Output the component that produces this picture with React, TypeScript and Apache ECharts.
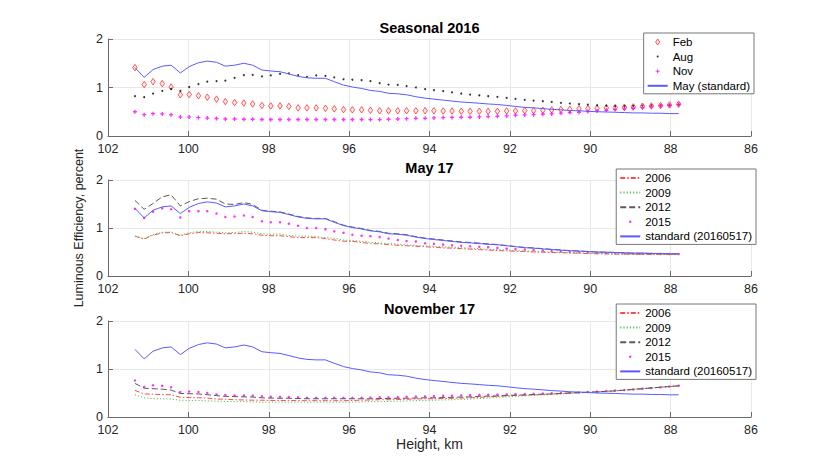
import React, { useEffect, useRef } from 'react';
import * as echarts from 'echarts';

// Heights (km) of the samples
const H = [
  101.33, 101.10, 100.88, 100.65, 100.43, 100.20, 99.98, 99.75, 99.53, 99.30,
  99.08, 98.85, 98.62, 98.40, 98.17, 97.95, 97.72, 97.50, 97.27, 97.05,
  96.82, 96.59, 96.37, 96.14, 95.92, 95.69, 95.47, 95.24, 95.02, 94.79,
  94.57, 94.34, 94.11, 93.89, 93.66, 93.44, 93.21, 92.99, 92.76, 92.54,
  92.31, 92.08, 91.86, 91.63, 91.41, 91.18, 90.96, 90.73, 90.51, 90.28,
  90.06, 89.83, 89.60, 89.38, 89.15, 88.93, 88.70, 88.48, 88.25, 88.03,
  87.80,
];

// Seasonal 2016
const FEB = [
  1.41, 1.06, 1.12, 1.08, 1.01, 0.85, 0.855, 0.83, 0.80, 0.76,
  0.71, 0.69, 0.68, 0.66, 0.63, 0.62, 0.62, 0.61, 0.58, 0.58,
  0.58, 0.57, 0.56, 0.545, 0.54, 0.54, 0.53, 0.52, 0.52, 0.52,
  0.52, 0.52, 0.52, 0.52, 0.515, 0.515, 0.51, 0.51, 0.51, 0.51,
  0.51, 0.517, 0.517, 0.524, 0.524, 0.53, 0.538, 0.545, 0.55, 0.56,
  0.566, 0.573, 0.58, 0.587, 0.593, 0.60, 0.614, 0.62, 0.628, 0.64,
  0.655,
];
const AUG = [
  0.82, 0.80, 0.875, 0.93, 0.97, 0.93, 1.01, 1.07, 1.12, 1.13,
  1.14, 1.20, 1.255, 1.26, 1.23, 1.25, 1.28, 1.29, 1.255, 1.22,
  1.25, 1.24, 1.21, 1.17, 1.16, 1.15, 1.13, 1.09, 1.06, 1.055,
  1.03, 1.00, 0.965, 0.945, 0.925, 0.90, 0.876, 0.855, 0.84, 0.82,
  0.807, 0.786, 0.766, 0.745, 0.73, 0.717, 0.703, 0.683, 0.67, 0.655,
  0.648, 0.634, 0.628, 0.614, 0.614, 0.62, 0.628, 0.634, 0.634, 0.634,
  0.648,
];
const NOV = [
  0.50, 0.44, 0.46, 0.455, 0.44, 0.39, 0.39, 0.38, 0.37, 0.36,
  0.35, 0.35, 0.345, 0.345, 0.34, 0.34, 0.34, 0.34, 0.34, 0.34,
  0.34, 0.34, 0.34, 0.34, 0.34, 0.34, 0.338, 0.338, 0.345, 0.35,
  0.358, 0.365, 0.365, 0.372, 0.38, 0.384, 0.386, 0.386, 0.393, 0.40,
  0.407, 0.414, 0.428, 0.434, 0.44, 0.448, 0.455, 0.47, 0.483, 0.49,
  0.503, 0.517, 0.53, 0.545, 0.56, 0.572, 0.586, 0.607, 0.62, 0.634,
  0.648,
];
// standard (20160517)
const STD = [
  1.41, 1.21, 1.37, 1.44, 1.46, 1.30, 1.43, 1.51, 1.545, 1.52,
  1.44, 1.46, 1.50, 1.46, 1.36, 1.34, 1.325, 1.28, 1.23, 1.20,
  1.19, 1.19, 1.12, 1.05, 1.01, 0.98, 0.94, 0.92, 0.88, 0.87,
  0.85, 0.81, 0.78, 0.76, 0.74, 0.72, 0.70, 0.69, 0.675, 0.66,
  0.65, 0.63, 0.61, 0.59, 0.58, 0.565, 0.55, 0.54, 0.525, 0.52,
  0.51, 0.50, 0.495, 0.49, 0.483, 0.476, 0.476, 0.47, 0.47, 0.462,
  0.462,
];

// May 17
const MAY06 = [
  0.83, 0.77, 0.85, 0.90, 0.905, 0.84, 0.88, 0.905, 0.90, 0.89,
  0.88, 0.885, 0.89, 0.88, 0.85, 0.84, 0.84, 0.82, 0.80, 0.80,
  0.80, 0.78, 0.75, 0.725, 0.72, 0.70, 0.675, 0.67, 0.655, 0.64,
  0.63, 0.62, 0.61, 0.60, 0.585, 0.58, 0.57, 0.56, 0.55, 0.54,
  0.53, 0.523, 0.515, 0.51, 0.50, 0.495, 0.49, 0.485, 0.48, 0.475,
  0.467, 0.463, 0.46, 0.457, 0.455, 0.452, 0.45, 0.448, 0.447, 0.446,
  0.446,
];
const MAY09 = [
  0.83, 0.78, 0.864, 0.91, 0.92, 0.85, 0.90, 0.927, 0.927, 0.913,
  0.90, 0.906, 0.927, 0.913, 0.878, 0.87, 0.878, 0.843, 0.83, 0.83,
  0.82, 0.80, 0.787, 0.75, 0.74, 0.725, 0.70, 0.69, 0.676, 0.662,
  0.648, 0.634, 0.627, 0.62, 0.606, 0.60, 0.59, 0.58, 0.57, 0.56,
  0.55, 0.54, 0.53, 0.52, 0.515, 0.505, 0.50, 0.49, 0.485, 0.48,
  0.475, 0.47, 0.465, 0.46, 0.457, 0.455, 0.452, 0.45, 0.448, 0.447,
  0.446,
];
const MAY12 = [
  1.575, 1.39, 1.51, 1.65, 1.69, 1.46, 1.55, 1.61, 1.62, 1.60,
  1.50, 1.49, 1.53, 1.49, 1.37, 1.35, 1.335, 1.29, 1.24, 1.21,
  1.20, 1.20, 1.13, 1.06, 1.02, 0.99, 0.95, 0.93, 0.89, 0.88,
  0.86, 0.82, 0.79, 0.77, 0.75, 0.73, 0.71, 0.70, 0.685, 0.67,
  0.655, 0.635, 0.615, 0.595, 0.585, 0.57, 0.555, 0.54, 0.53, 0.52,
  0.51, 0.50, 0.495, 0.49, 0.483, 0.476, 0.474, 0.47, 0.468, 0.462,
  0.46,
];
const MAY15 = [
  1.40, 1.21, 1.34, 1.41, 1.39, 1.22, 1.35, 1.35, 1.35, 1.30,
  1.23, 1.24, 1.26, 1.23, 1.14, 1.12, 1.12, 1.09, 1.045, 1.00,
  1.00, 0.975, 0.93, 0.90, 0.86, 0.84, 0.83, 0.81, 0.78, 0.75,
  0.73, 0.72, 0.68, 0.67, 0.655, 0.64, 0.63, 0.62, 0.61, 0.60,
  0.585, 0.57, 0.56, 0.55, 0.54, 0.53, 0.52, 0.51, 0.50, 0.495,
  0.49, 0.485, 0.48, 0.475, 0.47, 0.468, 0.465, 0.462, 0.46, 0.458,
  0.456,
];

// November 17
const NOV06 = [
  0.555, 0.48, 0.475, 0.465, 0.465, 0.41, 0.405, 0.40, 0.395, 0.375,
  0.37, 0.36, 0.355, 0.35, 0.35, 0.345, 0.345, 0.345, 0.34, 0.34,
  0.34, 0.34, 0.34, 0.34, 0.345, 0.35, 0.355, 0.36, 0.36, 0.365,
  0.37, 0.375, 0.38, 0.38, 0.385, 0.39, 0.395, 0.40, 0.41, 0.42,
  0.43, 0.44, 0.45, 0.455, 0.46, 0.47, 0.48, 0.49, 0.50, 0.505,
  0.515, 0.525, 0.535, 0.545, 0.56, 0.575, 0.59, 0.605, 0.62, 0.635,
  0.65,
];
const NOV09 = [
  0.465, 0.40, 0.38, 0.38, 0.375, 0.35, 0.345, 0.345, 0.335, 0.33,
  0.325, 0.32, 0.32, 0.315, 0.31, 0.31, 0.31, 0.31, 0.31, 0.31,
  0.31, 0.31, 0.31, 0.31, 0.31, 0.315, 0.32, 0.32, 0.325, 0.33,
  0.335, 0.34, 0.345, 0.35, 0.355, 0.36, 0.365, 0.375, 0.385, 0.395,
  0.41, 0.42, 0.43, 0.44, 0.45, 0.46, 0.47, 0.48, 0.49, 0.50,
  0.51, 0.52, 0.53, 0.545, 0.56, 0.575, 0.59, 0.605, 0.62, 0.63,
  0.645,
];
const NOV12 = [
  0.70, 0.60, 0.59, 0.58, 0.56, 0.49, 0.486, 0.48, 0.465, 0.445,
  0.43, 0.425, 0.42, 0.415, 0.40, 0.395, 0.39, 0.39, 0.385, 0.38,
  0.38, 0.38, 0.38, 0.38, 0.38, 0.38, 0.38, 0.385, 0.385, 0.39,
  0.39, 0.395, 0.40, 0.40, 0.405, 0.41, 0.415, 0.42, 0.43, 0.435,
  0.44, 0.45, 0.455, 0.46, 0.47, 0.475, 0.48, 0.49, 0.50, 0.51,
  0.515, 0.525, 0.535, 0.545, 0.56, 0.575, 0.59, 0.605, 0.62, 0.635,
  0.65,
];
const NOV15 = [
  0.76, 0.63, 0.66, 0.65, 0.62, 0.52, 0.53, 0.52, 0.50, 0.47,
  0.46, 0.45, 0.45, 0.445, 0.43, 0.42, 0.42, 0.415, 0.41, 0.40,
  0.40, 0.40, 0.40, 0.40, 0.40, 0.40, 0.405, 0.41, 0.41, 0.415,
  0.42, 0.425, 0.43, 0.435, 0.44, 0.445, 0.45, 0.455, 0.46, 0.463,
  0.466, 0.47, 0.475, 0.48, 0.485, 0.49, 0.495, 0.50, 0.505, 0.51,
  0.52, 0.53, 0.54, 0.55, 0.5625, 0.575, 0.59, 0.605, 0.618, 0.635,
  0.653,
];

const TITLES = ['Seasonal 2016', 'May 17', 'November 17'];
const TOP_LEGEND = ['Feb', 'Aug', 'Nov', 'May (standard)'];
const YEAR_LEGEND = ['2006', '2009', '2012', '2015', 'standard (20160517)'];

const FONT = '"Liberation Sans", Arial, Helvetica, sans-serif';
const BLUE = '#5a5aff';
const RED = '#ff4a4a';
const GREEN = '#55c055';
const GRAY = '#5a5a5a';
const MAGENTA = '#ff00ff';

const PLUS = 'path://M1,0h1v1h1v1h-1v1h-1v-1h-1v-1h1z';
const DIAMOND = 'path://M4.5,0L9,6.5L4.5,13L0,6.5Z';
// legend icons on a 40x12 frame (scaled to the 20x6 legend icon box)
const BOX = 'M0,0L1,0M40,12L39,12';
const ICON_DOT = 'path://' + BOX + 'M18,6a2,2 0 1,0 4,0a2,2 0 1,0 -4,0z';
const ICON_DOT15 = 'path://' + BOX + 'M17.5,6a2.5,2.5 0 1,0 5,0a2.5,2.5 0 1,0 -5,0z';
const ICON_PLUS = 'path://' + BOX + 'M19,2h2v3h3v2h-3v3h-2v-3h-3v-2h3z';

const pts = (v: number[]) => H.map((h, i) => [h, v[i]]);

export default function App() {
  const ref = useRef<HTMLDivElement>(null);

  useEffect(() => {
    if (!ref.current) return;
    const chart = echarts.init(ref.current, null, { renderer: 'svg' });

    const tops = [39, 180, 321];
    const heights = [97, 96, 96];

    const grid = tops.map((t, i) => ({
      left: 108,
      right: 79,
      top: t,
      height: heights[i],
      outerBoundsMode: 'none',
    }));

    const axisLineStyle = { color: '#6a6a6a', width: 1 };

    const xAxis = tops.map((_, i) => ({
      type: 'value',
      gridIndex: i,
      min: 86,
      max: 102,
      interval: 2,
      inverse: true,
      axisLine: { show: true, onZero: false, lineStyle: axisLineStyle },
      axisTick: { show: true, inside: true, length: 5, lineStyle: axisLineStyle },
      axisLabel: { color: '#262626', fontSize: 12.5, margin: 6, fontFamily: FONT },
      splitLine: { show: true, lineStyle: { color: '#e8e8e8', width: 1 } },
      name: i === 2 ? 'Height, km' : '',
      nameLocation: 'middle',
      nameGap: 20,
      nameTextStyle: { color: '#262626', fontSize: 14, fontFamily: FONT },
    }));

    const yAxis = tops.map((_, i) => ({
      type: 'value',
      gridIndex: i,
      min: 0,
      max: 2,
      interval: 1,
      axisLine: { show: true, onZero: false, lineStyle: axisLineStyle },
      axisTick: { show: true, inside: true, length: 5, lineStyle: axisLineStyle },
      axisLabel: { color: '#262626', fontSize: 12.5, margin: 5, fontFamily: FONT },
      splitLine: { show: true, lineStyle: { color: '#e8e8e8', width: 1 } },
      name: i === 1 ? 'Luminous Efficiency, percent' : '',
      nameLocation: 'middle',
      nameGap: 22,
      nameTextStyle: { color: '#262626', fontSize: 12.5, fontFamily: FONT },
    }));

    const title = TITLES.map((t, i) => ({
      text: t,
      left: 429.5,
      top: [20, 160, 301][i],
      textAlign: 'center',
      padding: 0,
      textStyle: { fontSize: 14.5, fontWeight: 'bold', color: '#000', fontFamily: FONT },
    }));

    const legendBase = {
      orient: 'vertical',
      align: 'left',
      backgroundColor: '#fff',
      borderColor: '#777',
      borderWidth: 1,
      borderRadius: 0,
      padding: [3, 4, 2, 3],
      itemWidth: 20,
      itemHeight: 6,
      itemGap: 2.6,
      selectedMode: false,
      textStyle: { fontSize: 11.5, color: '#000', fontFamily: FONT, lineHeight: 12 },
    };

    const lineItem = (name: string) => ({ name, itemStyle: { opacity: 0 } });

    const yearLegendData = [
      lineItem(YEAR_LEGEND[0]),
      lineItem(YEAR_LEGEND[1]),
      lineItem(YEAR_LEGEND[2]),
      { name: YEAR_LEGEND[3], icon: ICON_DOT15, itemStyle: { borderWidth: 0 } },
      lineItem(YEAR_LEGEND[4]),
    ];

    const legend = [
      {
        ...legendBase,
        right: 76,
        top: 33,
        itemStyle: { borderWidth: 0.8 },
        data: [
          { name: TOP_LEGEND[0], itemStyle: { borderWidth: 0.8 } },
          { name: TOP_LEGEND[1], icon: ICON_DOT, itemStyle: { borderWidth: 0 } },
          { name: TOP_LEGEND[2], icon: ICON_PLUS, itemStyle: { borderWidth: 0 } },
          lineItem(TOP_LEGEND[3]),
        ],
      },
      { ...legendBase, right: 74, top: 169, data: yearLegendData },
      { ...legendBase, right: 74, top: 304, data: yearLegendData },
    ];

    const line = (name: string, idx: number, vals: number[], color: string, type: any) => ({
      name,
      type: 'line',
      xAxisIndex: idx,
      yAxisIndex: idx,
      data: pts(vals),
      symbol: 'none',
      silent: true,
      lineStyle: { color, width: 1, type },
      itemStyle: { color },
    });

    const dots = (name: string, idx: number, vals: number[], color: string, size: number) => ({
      name,
      type: 'scatter',
      xAxisIndex: idx,
      yAxisIndex: idx,
      data: pts(vals),
      symbol: 'circle',
      symbolSize: size,
      silent: true,
      itemStyle: { color },
    });

    const series: any[] = [
      {
        name: TOP_LEGEND[0],
        type: 'scatter',
        xAxisIndex: 0,
        yAxisIndex: 0,
        data: pts(FEB),
        symbol: DIAMOND,
        symbolSize: 6.5,
        symbolKeepAspect: true,
        silent: true,
        itemStyle: { color: 'rgba(255,200,200,0.5)', borderColor: '#ff0000', borderWidth: 0.8 },
      },
      dots(TOP_LEGEND[1], 0, AUG, '#000', 2),
      {
        name: TOP_LEGEND[2],
        type: 'scatter',
        xAxisIndex: 0,
        yAxisIndex: 0,
        data: pts(NOV),
        symbol: PLUS,
        symbolSize: 4,
        silent: true,
        itemStyle: { color: MAGENTA },
      },
      line(TOP_LEGEND[3], 0, STD, BLUE, 'solid'),

      line(YEAR_LEGEND[0], 1, MAY06, RED, [5, 2, 1.5, 2]),
      line(YEAR_LEGEND[1], 1, MAY09, GREEN, [1.2, 2]),
      line(YEAR_LEGEND[2], 1, MAY12, GRAY, [6, 3]),
      dots(YEAR_LEGEND[3], 1, MAY15, MAGENTA, 2.5),
      line(YEAR_LEGEND[4], 1, STD, BLUE, 'solid'),

      line(YEAR_LEGEND[0], 2, NOV06, RED, [5, 2, 1.5, 2]),
      line(YEAR_LEGEND[1], 2, NOV09, GREEN, [1.2, 2]),
      line(YEAR_LEGEND[2], 2, NOV12, GRAY, [6, 3]),
      dots(YEAR_LEGEND[3], 2, NOV15, MAGENTA, 2.5),
      line(YEAR_LEGEND[4], 2, STD, BLUE, 'solid'),
    ];

    chart.setOption({
      animation: false,
      backgroundColor: '#fff',
      textStyle: { fontFamily: FONT },
      title,
      grid,
      xAxis,
      yAxis,
      legend,
      series,
    });

    return () => {
      chart.dispose();
    };
  }, []);

  return (
    <div
      ref={ref}
      style={{ position: 'absolute', left: 0, top: 0, width: 830, height: 469, background: '#fff' }}
    />
  );
}
